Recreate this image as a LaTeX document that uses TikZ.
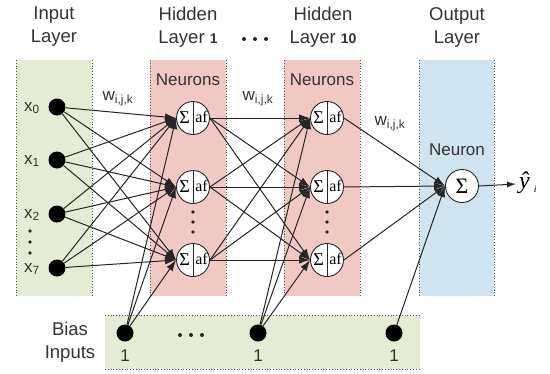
\documentclass[tikz,border=0pt]{standalone}
\usepackage{fontspec}
\setmainfont{Liberation Sans}
\newfontfamily\seriffont{Liberation Serif}
\usetikzlibrary{arrows.meta}
\definecolor{grn}{HTML}{E4ECD6}
\definecolor{pnk}{HTML}{F0C9C5}
\definecolor{blu}{HTML}{CFE4EE}
\definecolor{edge}{HTML}{555555}
\begin{document}
\begin{tikzpicture}[x=1pt,y=-1pt,
  hdr/.style={font=\fontsize{18.5}{23}\selectfont, align=center, text=black!80},
  lbl/.style={font=\fontsize{17}{20}\selectfont, text=black!80},
  wlbl/.style={font=\fontsize{17}{20}\selectfont, text=black!80},
  bdot/.style={circle,fill=black,minimum size=17pt,inner sep=0pt},
  neuron/.style={circle,draw=black!85,fill=white,minimum size=33pt,inner sep=0pt,line width=0.9pt},
  conn/.style={draw=black!85,line width=1pt,-{Latex[length=11pt,width=7.5pt]}},
  vdots/.style={circle,fill=black!85,minimum size=3.6pt,inner sep=0pt},
  hdots/.style={circle,fill=black!85,minimum size=4pt,inner sep=0pt},
  border/.style={draw=edge,line width=0.8pt,dotted}
]
\useasboundingbox (0,0) rectangle (550,373);
% columns
\fill[grn] (16,60) rectangle (92,296);
\fill[pnk] (150,60) rectangle (226,296);
\fill[pnk] (284,60) rectangle (360,296);
\fill[blu] (419,60) rectangle (494,296);
\fill[grn] (105,315) rectangle (420,369);
\foreach \xa in {16,92,150,226,284,360,419,494}
  \draw[border] (\xa,60) -- (\xa,296);
\draw[border] (105,315) -- (420,315);
\draw[border] (105,369) -- (420,369);
% headers
\node[hdr] (hin) at (54,27) {Input\\Layer};
\node[hdr] (hh1) at (188,27) {Hidden\\Layer {\fontsize{14}{16}\selectfont\bfseries 1}};
\node[hdr] (hh10) at (323,27) {Hidden\\Layer {\fontsize{14}{16}\selectfont\bfseries 10}};
\node[hdr] (hout) at (457,27) {Output\\Layer};
\foreach \xx [count=\k] in {244,255,266}
  \node[hdots] (hd\k) at (\xx,39) {};
\node[lbl] (nr1) at (188,80) {Neurons};
\node[lbl] (nr2) at (322,80) {Neurons};
\node[lbl] (nr3) at (457,150) {Neuron};
% input nodes
\node[bdot] (x0) at (57,107) {};
\node[bdot] (x1) at (57,160) {};
\node[bdot] (x2) at (57,214) {};
\node[bdot] (x7) at (57,268) {};
\node[lbl] (lx0) at (32,108) {x\textsubscript{0}};
\node[lbl] (lx1) at (32,161) {x\textsubscript{1}};
\node[lbl] (lx2) at (32,215) {x\textsubscript{2}};
\node[lbl] (lx7) at (32,269) {x\textsubscript{7}};
\node[vdots] (id1) at (30,231) {};
\node[vdots] (id2) at (30,242) {};
\node[vdots] (id3) at (30,253) {};
% neurons
\node[neuron] (h1a) at (193,118) {};
\node[neuron] (h1b) at (193,187) {};
\node[neuron] (h1c) at (193,260) {};
\node[neuron] (h2a) at (327,118) {};
\node[neuron] (h2b) at (327,187) {};
\node[neuron] (h2c) at (327,260) {};
\node[neuron] (o) at (462,186) {};
\foreach \n in {h1a,h1b,h1c,h2a,h2b,h2c}{
  \draw[black!85,line width=0.9pt] (\n.north) -- (\n.south);
  \path (\n.center) ++(-8.5,0) node[font=\seriffont\fontsize{18}{18}\selectfont] (\n s) {Σ};
  \path (\n.center) ++(8.5,-1) node[font=\seriffont\fontsize{16}{16}\selectfont] (\n f) {af};
}
\node[font=\seriffont\fontsize{22}{22}\selectfont] (os) at (o.center) {Σ};
\foreach \yy [count=\k] in {212,222,232}{
  \node[vdots] (d1\k) at (193,\yy) {};
  \node[vdots] (d2\k) at (327,\yy) {};
}
% bias
\node[bdot] (b1) at (125,333) {};
\node[bdot] (b2) at (258,333) {};
\node[bdot] (b3) at (394,333) {};
\node[lbl] (l1) at (125,356) {1};
\node[lbl] (l2) at (258,356) {1};
\node[lbl] (l3) at (394,356) {1};
\foreach \xx [count=\k] in {180,191,202}
  \node[hdots] (bd\k) at (\xx,335) {};
\node[hdr] (bias) at (70,342) {Bias\\Inputs};
% weights labels
\node[wlbl] (w1) at (118,99) {w\textsubscript{i,j,k}};
\node[wlbl] (w2) at (258,99) {w\textsubscript{i,j,k}};
\node[wlbl] (w3) at (390,124) {w\textsubscript{i,j,k}};
% connections
\foreach \i in {x0,x1,x2,x7}
  \foreach \j in {h1a,h1b,h1c}
    \draw[conn] (\i) -- (\j.west);
\foreach \j in {h1a,h1b,h1c}
  \draw[conn] (b1) -- (\j.west);
\foreach \i in {h1a,h1b,h1c}
  \foreach \j in {h2a,h2b,h2c}
    \draw[conn] (\i.east) -- (\j.west);
\foreach \j in {h2a,h2b,h2c}
  \draw[conn] (b2) -- (\j.west);
\foreach \i in {h2a,h2b,h2c}
  \draw[conn] (\i.east) -- (o.west);
\draw[conn] (b3) -- (o.west);
\node[font=\seriffont\itshape\fontsize{24}{26}\selectfont,inner sep=1pt,anchor=west] (yhat) at (518,183) {ŷ\,\textsubscript{\fontsize{10}{10}\selectfont i}};
\draw[draw=black!85,line width=1pt,-{Latex[length=9pt,width=6pt]}] (o.east) -- ([xshift=-2pt,yshift=-1pt]yhat.west);
\end{tikzpicture}
\end{document}
